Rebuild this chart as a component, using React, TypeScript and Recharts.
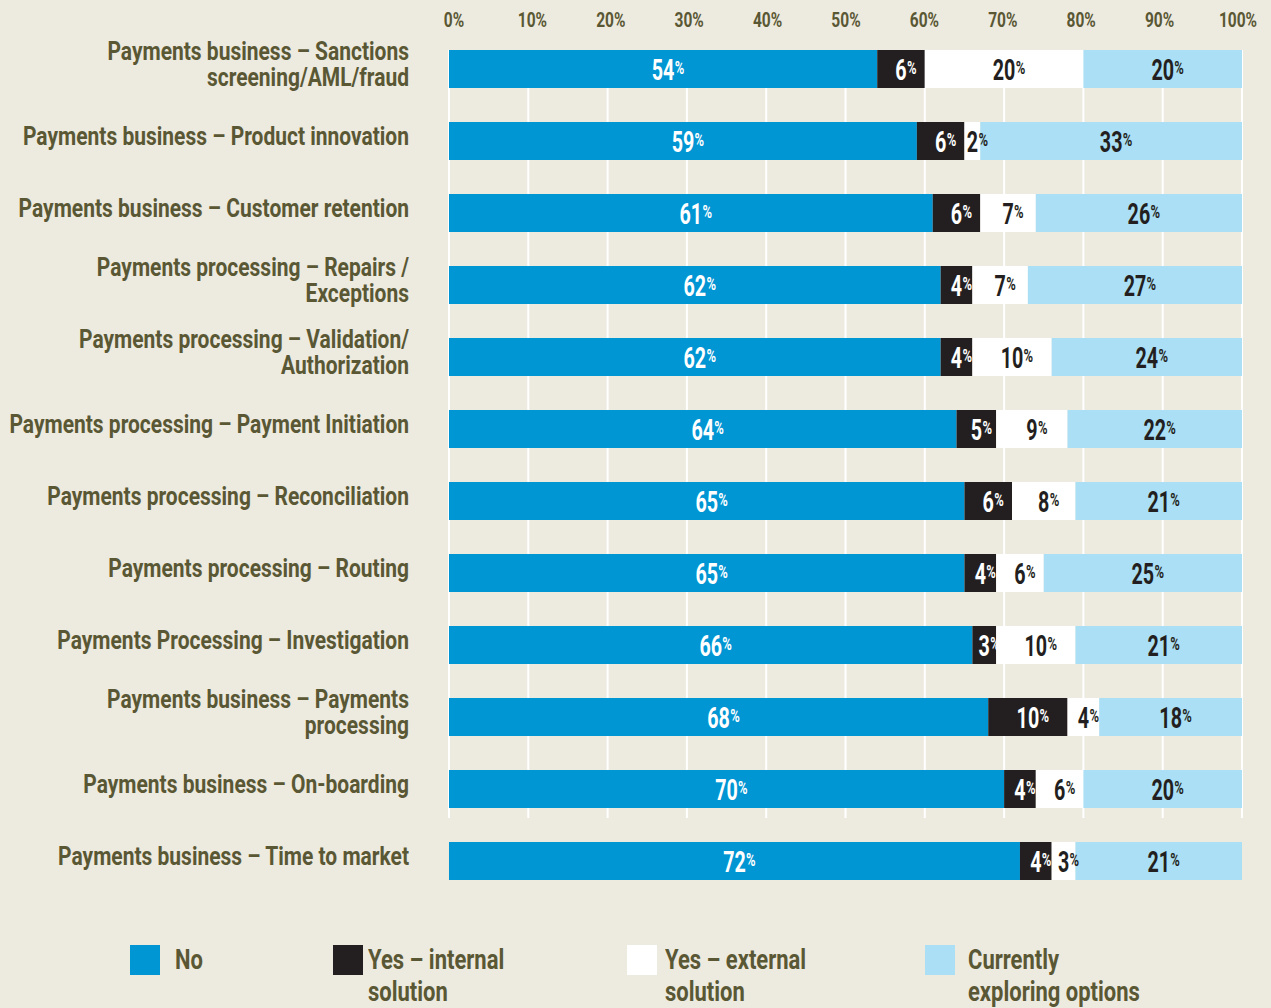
import { BarChart, Bar, XAxis, YAxis, CartesianGrid, LabelList, Legend } from "recharts";

const categories = [
  "Payments business – Sanctions\nscreening/AML/fraud",
  "Payments business – Product innovation",
  "Payments business – Customer retention",
  "Payments processing – Repairs /\nExceptions",
  "Payments processing – Validation/\nAuthorization",
  "Payments processing – Payment Initiation",
  "Payments processing – Reconciliation",
  "Payments processing – Routing",
  "Payments Processing – Investigation",
  "Payments business – Payments\nprocessing",
  "Payments business – On-boarding",
  "Payments business – Time to market",
];

const noValues = [54, 59, 61, 62, 62, 64, 65, 65, 66, 68, 70, 72];
const internalValues = [6, 6, 6, 4, 4, 5, 6, 4, 3, 10, 4, 4];
const externalValues = [20, 2, 7, 7, 10, 9, 8, 6, 10, 4, 6, 3];
const exploringValues = [20, 33, 26, 27, 24, 22, 21, 25, 21, 18, 20, 21];

const xTicks = [0, 10, 20, 30, 40, 50, 60, 70, 80, 90, 100];

const seriesNames = ["No", "Yes – internal\nsolution", "Yes – external\nsolution", "Currently\nexploring options"];
const seriesColors = ["#0095d3", "#231f20", "#ffffff", "#aadff6"];

const data = categories.map((name, i) => ({
  name,
  no: noValues[i],
  internal: internalValues[i],
  external: externalValues[i],
  exploring: exploringValues[i],
}));

const FONT = "Roboto, 'DejaVu Sans', sans-serif";
const OLIVE = "#5a5834";
const BG = "#edeae0";
const DARK = "#231f20";

// Roboto squeezed horizontally stands in for the condensed face
const makeLabel = (fill: string) => (props: any) => {
  const { x, y, width, height, value } = props;
  const cx = x + width / 2;
  const cy = y + height / 2;
  const half = (String(value).length * 0.5615 * 29 * 0.68) / 2;
  return (
    <g transform={`translate(${cx},${cy})`}>
      <g transform="scale(0.68,1)">
        <text x={0} y={11} textAnchor="middle" fill={fill} fontFamily={FONT} fontWeight={700} fontSize={29}>
          {value}
        </text>
      </g>
      <g transform={`translate(${half + 0.5},0) scale(0.72,1)`}>
        <text x={0} y={5} textAnchor="start" fill={fill} fontFamily={FONT} fontWeight={700} fontSize={18}>
          %
        </text>
      </g>
    </g>
  );
};

const CategoryTick = (props: any) => {
  const { x, y, payload } = props;
  const lines = String(payload.value).split("\n");
  const lh = 26;
  const start = 4 - ((lines.length - 1) * lh) / 2;
  return (
    <g transform={`translate(${x},${y}) scale(0.84,1)`}>
      <text textAnchor="end" fill={OLIVE} fontFamily={FONT} fontWeight={700} fontSize={25}>
        {lines.map((l, i) => (
          <tspan key={i} x={0} y={start + i * lh}>
            {l}
          </tspan>
        ))}
      </text>
    </g>
  );
};

const PercentTick = (props: any) => {
  const { x, payload } = props;
  const shift = 5 - (9 * payload.value) / 100;
  return (
    <g transform={`translate(${x + shift},27) scale(0.74,1)`}>
      <text x={0} y={0} textAnchor="middle" fill={OLIVE} fontFamily={FONT} fontWeight={700} fontSize={21}>
        {payload.value}%
      </text>
    </g>
  );
};

const GridLine = (props: any) => {
  const { x1, x2, y1, y2 } = props;
  return <line x1={x1} x2={x2} y1={y1 + 17} y2={y2 - 79} stroke="#ffffff" strokeWidth={2} />;
};

const LegendBox = () => {
  const lefts = [130, 333, 627, 925];
  const gaps = [15, 5, 8, 13];
  return (
    <div style={{ position: "relative", width: 1271, height: 70 }}>
      {seriesNames.map((name, i) => (
        <div key={i} style={{ position: "absolute", left: lefts[i], top: 0, display: "flex", alignItems: "flex-start" }}>
          <div style={{ width: 30, height: 30, background: seriesColors[i] }} />
          <div
            style={{
              marginLeft: gaps[i],
              marginTop: -1,
              fontFamily: FONT,
              fontWeight: 700,
              fontSize: 28,
              lineHeight: "32px",
              color: OLIVE,
              whiteSpace: "pre-line",
              transform: "scaleX(0.785)",
              transformOrigin: "left top",
            }}
          >
            {name}
          </div>
        </div>
      ))}
    </div>
  );
};

export default function App() {
  return (
    <div style={{ position: "absolute", left: 0, top: 0, width: 1271, height: 1008, background: BG, overflow: "hidden" }}>
      <BarChart
        width={1271}
        height={1008}
        data={data}
        layout="vertical"
        margin={{ top: 0, right: 29, bottom: 111, left: 0 }}
        barSize={38}
      >
        <CartesianGrid horizontal={false} vertical={GridLine} />
        <XAxis
          type="number"
          orientation="top"
          domain={[0, 100]}
          ticks={xTicks}
          height={33}
          axisLine={false}
          tickLine={false}
          tick={PercentTick}
        />
        <YAxis
          type="category"
          dataKey="name"
          width={449}
          axisLine={false}
          tickLine={false}
          tickSize={0}
          tickMargin={40}
          tick={CategoryTick}
        />
        <Legend
          layout="horizontal"
          verticalAlign="middle"
          align="center"
          wrapperStyle={{ top: 945, left: 0, width: 1271 }}
          content={LegendBox}
        />
        <Bar dataKey="no" name="No" stackId="a" fill={seriesColors[0]} isAnimationActive={false}>
          <LabelList dataKey="no" content={makeLabel("#ffffff")} />
        </Bar>
        <Bar dataKey="internal" name="Yes – internal solution" stackId="a" fill={seriesColors[1]} isAnimationActive={false}>
          <LabelList dataKey="internal" content={makeLabel("#ffffff")} />
        </Bar>
        <Bar dataKey="external" name="Yes – external solution" stackId="a" fill={seriesColors[2]} isAnimationActive={false}>
          <LabelList dataKey="external" content={makeLabel(DARK)} />
        </Bar>
        <Bar dataKey="exploring" name="Currently exploring options" stackId="a" fill={seriesColors[3]} isAnimationActive={false}>
          <LabelList dataKey="exploring" content={makeLabel(DARK)} />
        </Bar>
      </BarChart>
    </div>
  );
}
